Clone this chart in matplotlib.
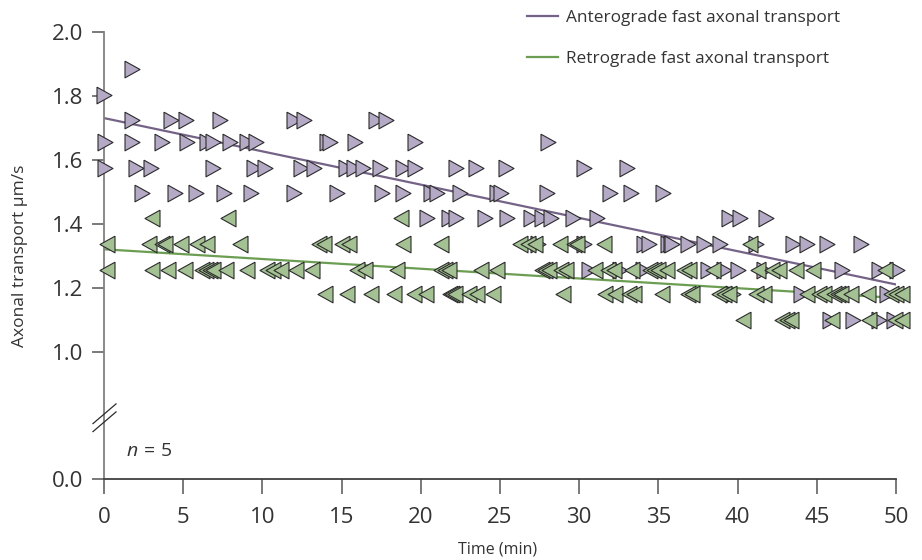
import numpy as np
import matplotlib
matplotlib.use("Agg")
import matplotlib.pyplot as plt
from matplotlib.path import Path

plt.rcParams['font.family'] = ['Open Sans', 'DejaVu Sans']
plt.rcParams['mathtext.fontset'] = 'custom'
plt.rcParams['mathtext.it'] = 'Open Sans:italic'
plt.rcParams['mathtext.rm'] = 'Open Sans'

# anterograde (purple, ">") - one list of times per speed level
ant_levels = [1.883, 1.802, 1.724, 1.655, 1.574, 1.496, 1.417, 1.336, 1.255, 1.18, 1.099]
ant_times = [
    [1.76],
    [0.0],
    [1.76, 4.22, 5.16, 7.35, 12.0, 12.63, 17.16, 17.82],
    [0.05, 1.76, 3.63, 5.21, 6.53, 6.87, 7.94, 9.02, 9.58, 14.07, 14.28, 15.83, 19.62, 28.0],
    [0.05, 2.01, 2.95, 6.87, 9.48, 10.18, 12.42, 13.27, 15.27, 15.8, 16.32, 17.42, 18.89,
     19.62, 22.21, 23.47, 25.41, 30.32, 32.99],
    [2.43, 4.47, 5.8, 7.59, 9.31, 12.01, 14.7, 17.54, 18.89, 20.63, 21.05, 22.46, 24.84,
     25.09, 27.95, 31.93, 33.26, 35.26],
    [20.42, 21.79, 22.25, 24.04, 25.47, 26.94, 27.64, 28.25, 29.64, 31.11, 39.47, 40.14, 41.82],
    [27.41, 30.32, 34.1, 34.42, 35.61, 35.78, 35.89, 36.9, 37.88, 38.86, 41.15, 43.47, 44.41,
     45.63, 47.82],
    [30.62, 32.58, 34.0, 38.16, 39.14, 40.03, 41.64, 46.59, 48.9, 50.09],
    [39.68, 43.99, 49.46],
    [45.85, 47.29, 48.91, 49.89],
]

# retrograde (green, "<")
ret_levels = [1.417, 1.336, 1.255, 1.18, 1.099]
ret_times = [
    [3.06, 7.8, 18.78],
    [0.2, 2.81, 3.63, 3.84, 4.85, 5.86, 6.53, 8.6, 13.57, 13.89, 15.04, 15.44, 18.86, 21.29,
     26.28, 26.74, 27.21, 28.76, 29.68, 29.87, 31.58, 40.81],
    [0.18, 3.06, 4.07, 5.1, 6.17, 6.43, 6.7, 6.91, 7.69, 9.02, 10.32, 10.64, 11.16, 12.11,
     13.16, 16.0, 16.45, 18.47, 21.28, 21.53, 21.75, 23.83, 24.8, 27.68, 27.87, 28.11, 28.84,
     29.14, 30.97, 31.79, 32.21, 33.36, 34.48, 34.73, 34.99, 35.57, 36.63, 36.96, 38.42,
     41.29, 42.2, 42.63, 43.7, 44.73, 49.31],
    [13.98, 15.33, 16.84, 18.32, 19.58, 20.32, 21.86, 22.0, 22.15, 23.06, 23.52, 24.56, 28.95,
     31.6, 32.28, 33.17, 33.46, 35.23, 36.84, 37.09, 38.84, 39.15, 39.47, 41.15, 41.67, 44.41,
     45.17, 45.47, 46.1, 46.31, 46.5, 47.15, 48.23, 49.67, 49.97, 50.35],
    [40.37, 42.83, 43.09, 43.34, 45.95, 48.31, 49.95, 50.37],
]

# fitted trend lines (start, end)
fit_t = [0, 50]
ant_fit = [1.73, 1.21]
ret_fit = [1.32, 1.168]

purple_fill, purple_line = "#b5aac6", "#756387"
green_fill, green_line = "#a3c192", "#6b9d52"


def flatten(levels, times):
    t = np.concatenate([np.array(ts, float) for ts in times])
    v = np.concatenate([np.full(len(ts), lv) for lv, ts in zip(levels, times)])
    o = np.argsort(t, kind="stable")
    return t[o], v[o]


ant_t, ant_v = flatten(ant_levels, ant_times)
ret_t, ret_v = flatten(ret_levels, ret_times)

# broken y axis: 0..1 squeezed
K = 0.398
def fwd(y):
    y = np.asarray(y, float)
    return np.where(y >= 1, y, 1 - (1 - y) * K)
def inv(t):
    t = np.asarray(t, float)
    return np.where(t >= 1, t, 1 - (1 - t) / K)

tri_right = [(-0.45, 0.5), (0.45, 0.0), (-0.45, -0.5), (-0.45, 0.5)]
tri_left = [(0.45, 0.5), (-0.45, 0.0), (0.45, -0.5), (0.45, 0.5)]

fig = plt.figure(figsize=(9.22, 5.6), dpi=100)
ax = fig.add_axes([0.1128, 0.1446, 0.859, 0.7988])
ax.set_yscale("function", functions=(fwd, inv))
ax.set_xlim(0, 50)
ax.set_ylim(0, 2.0)

l1, = ax.plot(fit_t, ant_fit, color=purple_line, lw=1.6, zorder=2,
              label="Anterograde fast axonal transport")
l2, = ax.plot(fit_t, ret_fit, color=green_line, lw=1.6, zorder=2,
              label="Retrograde fast axonal transport")

for t, v in zip(ant_t, ant_v):
    ax.plot(t, v, marker=tri_right, ms=12, mfc=purple_fill, mec="#2b2b2b", mew=0.8,
            ls="none", clip_on=False, zorder=3)
for t, v in zip(ret_t, ret_v):
    ax.plot(t, v, marker=tri_left, ms=12, mfc=green_fill, mec="#2b2b2b", mew=0.8,
            ls="none", clip_on=False, zorder=4)

# axis break marks
brk = Path([(-12, -6.5), (12, 14), (-12, -14.5), (12, 6)],
           [Path.MOVETO, Path.LINETO, Path.MOVETO, Path.LINETO])
ax.plot(0, 0.49, marker=brk, ms=20.9, mec="#2b2b2b", mew=0.9, mfc="none",
        clip_on=False, zorder=5)

ax.text(1.39, 0.18, r"$n\,{=}\,5$", fontsize=14, color="#333333", va="baseline")

ax.set_xticks(range(0, 51, 5))
ax.set_yticks([0.0, 1.0, 1.2, 1.4, 1.6, 1.8, 2.0])
ax.set_yticklabels(["0.0", "1.0", "1.2", "1.4", "1.6", "1.8", "2.0"])
ax.tick_params(axis="y", direction="out", length=8.6, width=1.1, color="#555555",
               labelsize=16, labelcolor="#333333", pad=6.5)
ax.tick_params(axis="x", direction="out", length=10.5, width=1.1, color="#555555",
               labelsize=16, labelcolor="#333333", pad=10)
for s in ("top", "right"):
    ax.spines[s].set_visible(False)
ax.spines["left"].set_color("#808080")
ax.spines["left"].set_linewidth(1.3)
ax.spines["bottom"].set_color("#404040")
ax.spines["bottom"].set_linewidth(1.3)

fig.text(20 / 922, 1 - 256 / 560, "Axonal transport µm/s", rotation=90, ha="center",
         va="center", fontsize=12.5, color="#333333")
fig.text(498 / 922, 1 - 549 / 560, "Time (min)", ha="center", va="center",
         fontsize=11.5, color="#333333")

fig.legend(handles=[l1, l2], loc="upper left", bbox_to_anchor=(527 / 922, 1 - 10 / 560),
           frameon=False, fontsize=12.4, handlelength=1.8, handletextpad=0.45,
           labelspacing=1.45, borderpad=0, borderaxespad=0, labelcolor="#333333")

fig.savefig("out.png", dpi=100)
